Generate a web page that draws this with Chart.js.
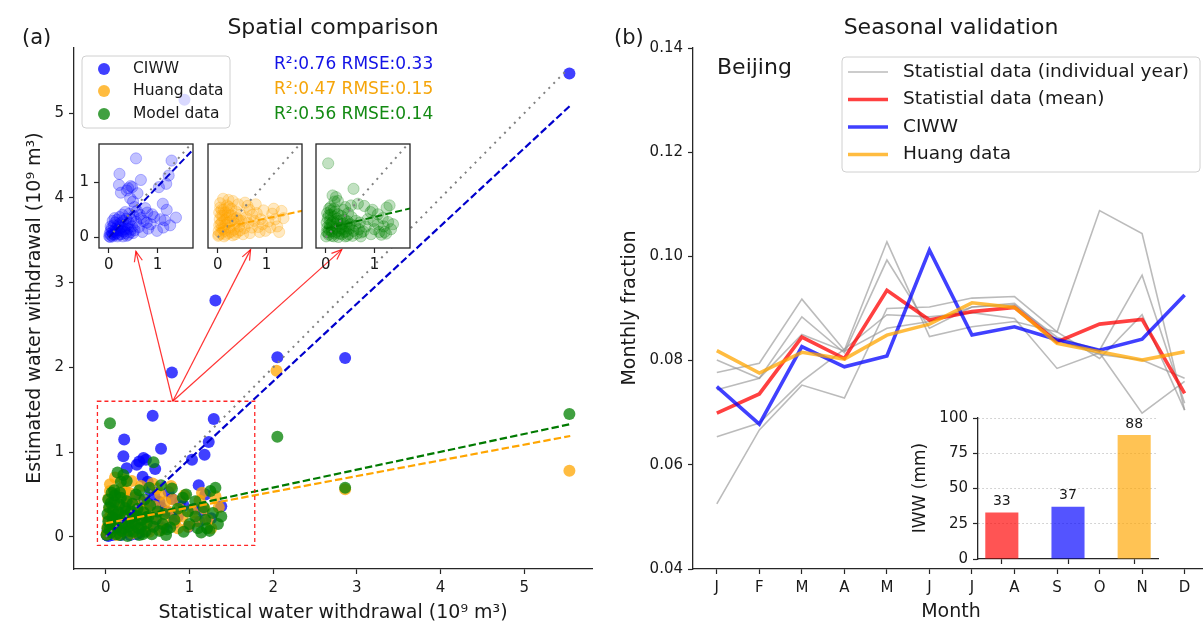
<!DOCTYPE html>
<html>
<head>
<meta charset="utf-8">
<script src="https://cdn.jsdelivr.net/npm/chart.js@4.4.1/dist/chart.umd.min.js"></script>
<style>
  html, body { margin: 0; padding: 0; background: #fff; overflow: hidden; width: 1203px; height: 632px; }
  canvas { position: absolute; }
</style>
</head>
<body>
<canvas id="spatial" width="600" height="632" style="left:0;top:0"></canvas>
<canvas id="seasonal" width="620" height="632" style="left:600px;top:0"></canvas>
<canvas id="inCiww" width="140" height="150" style="left:60px;top:130px"></canvas>
<canvas id="inHuang" width="140" height="150" style="left:169px;top:130px"></canvas>
<canvas id="inModel" width="140" height="150" style="left:277px;top:130px"></canvas>
<canvas id="iwwBars" width="272" height="200" style="left:900px;top:395px"></canvas>
<script>
// ---- panel (a) data: [statistical, estimated] in 10^9 m3
const ciwwPts = [
  [0.94,5.16],[5.54,5.47],[1.31,2.79],[0.79,1.94],[2.05,2.12],[2.86,2.11],
  [0.56,1.43],[1.29,1.39],[0.22,1.15],[1.23,1.12],[0.66,1.04],[1.18,0.97],[0.21,0.95],[0.45,0.93],
  [0.40,0.89],[0.48,0.91],[1.03,0.91],[0.37,0.85],[0.25,0.81],[0.59,0.80],[0.44,0.71],[0.50,0.65],
  [1.11,0.61],[0.53,0.55],[1.19,0.50],[0.79,0.45],[0.93,0.37],[1.38,0.36],[0.66,0.35],[1.15,0.31],
  [0.78,0.27],[1.12,0.18],[0.81,0.16],
  [0.01,0.02],[0.02,0.07],[0.03,0.01],[0.04,0.12],[0.05,0.04],[0.06,0.17],[0.07,0.09],[0.08,0.02],
  [0.10,0.22],[0.11,0.12],[0.12,0.05],[0.13,0.27],[0.15,0.16],[0.16,0.08],[0.17,0.32],[0.18,0.02],
  [0.19,0.22],[0.21,0.13],[0.22,0.37],[0.24,0.26],[0.25,0.06],[0.27,0.18],[0.28,0.41],[0.30,0.30],
  [0.31,0.11],[0.33,0.23],[0.34,0.46],[0.36,0.34],[0.37,0.03],[0.39,0.16],[0.41,0.27],[0.42,0.43],
  [0.44,0.09],[0.46,0.33],[0.48,0.20],[0.51,0.39],[0.53,0.13],[0.56,0.28],[0.58,0.48],[0.62,0.19],
  [0.64,0.41],[0.69,0.10],[0.72,0.30],[0.75,0.53],[0.86,0.24],[0.89,0.42],[0.99,0.12],[1.06,0.33],[1.26,0.22],
  [0.04,0.20],[0.09,0.06],[0.14,0.10],[0.20,0.05],[0.26,0.12],[0.29,0.02],[0.35,0.08],[0.40,0.05],
  [0.08,0.30],[0.12,0.35],[0.18,0.14],[0.23,0.20],[0.32,0.15],[0.38,0.22],[0.45,0.14],[0.50,0.08]
];
const huangPts = [
  [2.04,1.96],[2.86,0.56],[5.54,0.78],[0.11,0.70],[0.05,0.62],[0.31,0.66],[0.56,0.63],[0.61,0.57],
  [0.78,0.60],[0.94,0.49],[1.12,0.43],[1.31,0.48],[1.35,0.35],[1.04,0.29],[0.83,0.19],[1.22,0.20],
  [0.71,0.41],[0.88,0.33],[1.26,0.10],[0.22,0.68],[0.42,0.60],[1.18,0.33],[0.98,0.12],[0.65,0.50],
  [0.01,0.03],[0.02,0.12],[0.03,0.22],[0.04,0.33],[0.03,0.45],[0.05,0.54],[0.07,0.07],[0.08,0.17],
  [0.09,0.28],[0.10,0.39],[0.12,0.50],[0.13,0.02],[0.15,0.12],[0.16,0.23],[0.18,0.35],[0.19,0.58],
  [0.21,0.46],[0.22,0.08],[0.24,0.18],[0.26,0.29],[0.28,0.52],[0.29,0.40],[0.31,0.04],[0.33,0.14],
  [0.35,0.25],[0.37,0.47],[0.39,0.35],[0.41,0.10],[0.44,0.20],[0.47,0.41],[0.49,0.30],[0.52,0.06],
  [0.55,0.17],[0.58,0.36],[0.62,0.26],[0.66,0.08],[0.70,0.18],[0.75,0.30],[0.80,0.44],[0.86,0.10],
  [0.92,0.24],[1.08,0.18],[1.15,0.52],
  [0.02,0.05],[0.06,0.25],[0.07,0.40],[0.11,0.15],[0.14,0.31],[0.17,0.05],[0.20,0.27],[0.25,0.40],
  [0.27,0.10],[0.32,0.33],[0.36,0.06],[0.43,0.31],[0.46,0.13],[0.08,0.50],[0.15,0.45],[0.23,0.55]
];
const modelPts = [
  [0.05,1.34],[2.05,1.18],[2.86,0.58],[5.54,1.45],[0.57,0.88],[0.14,0.76],[0.21,0.73],[0.18,0.65],
  [0.25,0.66],[0.66,0.61],[0.79,0.57],[0.96,0.50],[0.92,0.46],[1.07,0.42],[1.25,0.54],[1.31,0.58],
  [1.17,0.35],[1.28,0.28],[1.07,0.24],[1.38,0.24],[1.34,0.15],[1.21,0.10],[1.10,0.10],[1.14,0.05],
  [0.93,0.06],[0.73,0.09],[0.72,0.02],[0.07,0.52],[1.24,0.07],[0.52,0.58],[0.40,0.55],
  [0.01,0.02],[0.02,0.10],[0.03,0.18],[0.02,0.27],[0.04,0.35],[0.03,0.44],[0.06,0.05],[0.07,0.14],
  [0.08,0.23],[0.09,0.31],[0.10,0.41],[0.11,0.49],[0.12,0.03],[0.13,0.11],[0.14,0.20],[0.15,0.29],
  [0.16,0.38],[0.18,0.46],[0.19,0.07],[0.20,0.16],[0.22,0.25],[0.23,0.34],[0.25,0.42],[0.26,0.01],
  [0.27,0.12],[0.29,0.21],[0.30,0.30],[0.32,0.39],[0.33,0.06],[0.35,0.15],[0.37,0.25],[0.38,0.33],
  [0.40,0.02],[0.42,0.11],[0.43,0.20],[0.45,0.29],[0.47,0.06],[0.49,0.16],[0.51,0.24],[0.53,0.37],
  [0.55,0.03],[0.57,0.12],[0.60,0.21],[0.62,0.30],[0.64,0.07],[0.68,0.15],[0.70,0.27],[0.77,0.11],
  [0.82,0.20],[0.86,0.33],[1.00,0.15],[0.98,0.30],[1.19,0.20],[0.46,0.44],[0.36,0.50],
  [0.05,0.09],[0.09,0.19],[0.12,0.26],[0.17,0.02],[0.21,0.10],[0.24,0.30],[0.28,0.07],[0.31,0.17],
  [0.34,0.24],[0.39,0.10],[0.44,0.03],[0.48,0.23],[0.06,0.40],[0.10,0.55],[0.17,0.52]
];
// regression / 1:1 lines (x ends, y ends)
const fitX = [0, 5.55];
const ciwwFit = [0.0, 5.09];
const huangFit = [0.16, 1.19];
const modelFit = [0.16, 1.33];
const oneX = [0, 5.5];
const r2Labels = ['R\u00B2:0.76 RMSE:0.33', 'R\u00B2:0.47 RMSE:0.15', 'R\u00B2:0.56 RMSE:0.14'];
const seriesNames = ['CIWW', 'Huang data', 'Model data'];
const zoomBoxX = [-0.1, 1.78];
const zoomBoxY = [-0.1, 1.6];
const arrowFrom = [0.8, 1.6];
const arrowTo = [[0.36, 3.37], [1.73, 3.39], [2.82, 3.39]];
const axisTicksA = [0, 1, 2, 3, 4, 5];
const insetTicks = [0, 1];

// ---- panel (b) data: monthly fraction, Beijing
const months = ['J','F','M','A','M','J','J','A','S','O','N','D'];
const year1 = [0.0777,0.0795,0.0918,0.0820,0.1028,0.0846,0.0865,0.0875,0.0855,0.1088,0.1044,0.0705];
const year2 = [0.0744,0.0766,0.0884,0.0815,0.0993,0.0862,0.0903,0.0907,0.0845,0.0820,0.0964,0.0718];
const year3 = [0.0525,0.0667,0.0753,0.0728,0.0900,0.0903,0.0920,0.0923,0.0855,0.0804,0.0888,0.0705];
const year4 = [0.0654,0.0680,0.0760,0.0822,0.0888,0.0884,0.0892,0.0881,0.0785,0.0815,0.0699,0.0760];
const year5 = [0.0801,0.0766,0.0850,0.0818,0.0862,0.0875,0.0903,0.0910,0.0840,0.0812,0.0801,0.0766];
const statMean = [0.0699,0.0736,0.0845,0.0804,0.0935,0.0878,0.0894,0.0902,0.0836,0.0870,0.0879,0.0737];
const ciwwFrac = [0.0750,0.0678,0.0827,0.0788,0.0809,0.1012,0.0849,0.0865,0.0840,0.0820,0.0841,0.0926];
const huangFrac = [0.0819,0.0776,0.0816,0.0803,0.0849,0.0870,0.0911,0.0902,0.0833,0.0817,0.0801,0.0817];
const fracTicks = [0.04, 0.06, 0.08, 0.10, 0.12, 0.14];
const lineNames = ['Statistial data (individual year)', 'Statistial data (mean)', 'CIWW', 'Huang data'];

// ---- inset bars: IWW (mm)
const iwwValues = [33, 37, 88];
const iwwTicks = [0, 25, 50, 75, 100];

const AX = '#262626';
const TXT = '#1a1a1a';
const FONT = "'DejaVu Sans', sans-serif";
Chart.defaults.font.family = FONT;
Chart.defaults.color = TXT;
Chart.defaults.animation = false;
Chart.defaults.events = [];
Chart.defaults.plugins.legend.display = false;
Chart.defaults.plugins.tooltip.enabled = false;

const BLUE = a => `rgba(0,0,255,${a})`;
const ORANGE = a => `rgba(255,165,0,${a})`;
const GREEN = a => `rgba(0,128,0,${a})`;
const RED = a => `rgba(255,0,0,${a})`;

const toXY = pts => pts.map(p => ({x: p[0], y: p[1]}));
const seg = (xs, ys) => xs.map((x, i) => ({x: x, y: ys[i]}));
const byMonth = vals => vals.map((v, i) => ({x: i, y: v}));

function text(ctx, s, x, y, size, color, align, base, rot) {
  ctx.save();
  ctx.font = `${size}px ${FONT}`;
  ctx.fillStyle = color || TXT;
  ctx.textAlign = align || 'left';
  ctx.textBaseline = base || 'alphabetic';
  ctx.translate(x, y);
  if (rot) ctx.rotate(rot);
  ctx.fillText(s, 0, 0);
  ctx.restore();
}

function linAxis(min, max, ticks, fit, extra) {
  const o = {
    type: 'linear', min: min, max: max,
    afterBuildTicks: s => { s.ticks = ticks.map(v => ({value: v})); },
    afterFit: fit,
    grid: {drawOnChartArea: false, tickLength: 5, tickColor: AX, tickWidth: 1.2},
    border: {color: AX, width: 1.3},
    ticks: {font: {size: 15}, color: TXT, padding: 5, maxRotation: 0, autoSkip: false}
  };
  return Object.assign(o, extra || {});
}

function lineSet(data, color, width, dash, order) {
  return {type: 'line', data: data, borderColor: color, borderWidth: width, borderDash: dash,
          pointRadius: 0, fill: false, showLine: true, tension: 0, order: order};
}
function dotSet(pts, color, r, order, edge, clip) {
  const d = {type: 'scatter', data: toXY(pts), backgroundColor: color, borderColor: edge || color,
             borderWidth: edge ? 1 : 0, pointRadius: r, order: order};
  if (clip !== undefined) d.clip = clip;
  return d;
}

function arrow(ctx, x1, y1, x2, y2) {
  ctx.beginPath(); ctx.moveTo(x1, y1); ctx.lineTo(x2, y2); ctx.stroke();
  const a = Math.atan2(y2 - y1, x2 - x1), L = 11, w = 0.38;
  ctx.beginPath();
  ctx.moveTo(x2 - L * Math.cos(a - w), y2 - L * Math.sin(a - w));
  ctx.lineTo(x2, y2);
  ctx.lineTo(x2 - L * Math.cos(a + w), y2 - L * Math.sin(a + w));
  ctx.stroke();
}

function roundBox(ctx, x, y, w, h, r) {
  ctx.beginPath();
  ctx.moveTo(x + r, y); ctx.lineTo(x + w - r, y); ctx.quadraticCurveTo(x + w, y, x + w, y + r);
  ctx.lineTo(x + w, y + h - r); ctx.quadraticCurveTo(x + w, y + h, x + w - r, y + h);
  ctx.lineTo(x + r, y + h); ctx.quadraticCurveTo(x, y + h, x, y + h - r);
  ctx.lineTo(x, y + r); ctx.quadraticCurveTo(x, y, x + r, y);
  ctx.closePath();
}

// ---------- panel (a)
const spatialDecor = {
  id: 'spatialDecor',
  afterDatasetsDraw(chart) {
    const ctx = chart.ctx, xs = chart.scales.x, ys = chart.scales.y;
    ctx.save();
    ctx.strokeStyle = RED(0.85); ctx.lineWidth = 1.3; ctx.setLineDash([4, 3]);
    const bx = xs.getPixelForValue(zoomBoxX[0]), by = ys.getPixelForValue(zoomBoxY[1]);
    ctx.strokeRect(bx, by, xs.getPixelForValue(zoomBoxX[1]) - bx, ys.getPixelForValue(zoomBoxY[0]) - by);
    ctx.setLineDash([]);
    ctx.strokeStyle = RED(0.8); ctx.lineWidth = 1.2;
    const ax = xs.getPixelForValue(arrowFrom[0]), ay = ys.getPixelForValue(arrowFrom[1]);
    arrowTo.forEach(t => arrow(ctx, ax, ay, xs.getPixelForValue(t[0]), ys.getPixelForValue(t[1])));
    ctx.restore();
  },
  afterDraw(chart) {
    const ctx = chart.ctx;
    // legend
    ctx.save();
    roundBox(ctx, 82, 56, 148, 72, 4);
    ctx.fillStyle = 'rgba(255,255,255,0.8)'; ctx.fill();
    ctx.strokeStyle = '#d0d0d0'; ctx.lineWidth = 1; ctx.stroke();
    const cols = [BLUE(0.75), ORANGE(0.75), GREEN(0.75)];
    const rows = [69, 91, 114];
    seriesNames.forEach((n, i) => {
      ctx.beginPath(); ctx.arc(104, rows[i], 6, 0, Math.PI * 2);
      ctx.fillStyle = cols[i]; ctx.fill();
      text(ctx, n, 133, rows[i], 15.5, TXT, 'left', 'middle');
    });
    ctx.restore();
    const tcols = ['#1212e6', '#f5a50a', '#138a13'];
    r2Labels.forEach((s, i) => text(ctx, s, 274, [65, 90, 115][i], 17, tcols[i], 'left', 'middle'));
    text(ctx, 'Spatial comparison', 333, 34, 22, TXT, 'center');
    text(ctx, '(a)', 22, 44, 21, TXT, 'left');
    text(ctx, 'Statistical water withdrawal (10\u2079 m\u00B3)', 333, 618, 19, TXT, 'center');
    text(ctx, 'Estimated water withdrawal (10\u2079 m\u00B3)', 35, 308, 19, TXT, 'center', 'middle', -Math.PI / 2);
  }
};

new Chart(document.getElementById('spatial'), {
  type: 'scatter',
  data: {datasets: [
    dotSet(ciwwPts, BLUE(0.75), 6, 6),
    dotSet(huangPts, ORANGE(0.75), 6, 5),
    dotSet(modelPts, GREEN(0.75), 6, 4),
    lineSet(seg(oneX, oneX), 'rgba(128,128,128,1)', 2, [2, 5], 0),
    lineSet(seg(fitX, ciwwFit), '#0000cc', 2.2, [7.4, 3.2], 0),
    lineSet(seg(fitX, huangFit), '#ffa500', 2.2, [7.4, 3.2], 0),
    lineSet(seg(fitX, modelFit), '#007a00', 2.2, [7.4, 3.2], 0)
  ]},
  options: {
    responsive: false,
    layout: {padding: {left: 0, right: 8, top: 48, bottom: 0}},
    scales: {
      x: linAxis(-0.38, 5.81, axisTicksA, s => { s.height = 63; }),
      y: linAxis(-0.38, 5.77, axisTicksA, s => { s.width = 74; }, {})
    }
  },
  plugins: [spatialDecor]
});

// ---------- insets of panel (a)
const insetFrame = {
  id: 'insetFrame',
  beforeDatasetsDraw(chart) {
    const a = chart.chartArea, ctx = chart.ctx;
    ctx.save(); ctx.fillStyle = '#fff';
    ctx.fillRect(a.left, a.top, a.right - a.left, a.bottom - a.top);
    ctx.restore();
  },
  afterDraw(chart) {
    const a = chart.chartArea, ctx = chart.ctx;
    ctx.save(); ctx.strokeStyle = AX; ctx.lineWidth = 1.3;
    ctx.strokeRect(a.left, a.top, a.right - a.left, a.bottom - a.top);
    ctx.restore();
  }
};

function inset(id, pts, col, fit, dashCol, showY) {
  const yAxis = linAxis(-0.19, 1.69, insetTicks, s => { s.width = 39; }, {border: {display: false}});
  if (!showY) {
    yAxis.ticks = {display: false};
    yAxis.grid = {display: false};
  }
  const xAxis = linAxis(-0.2, 1.73, insetTicks, s => { s.height = 32; }, {border: {display: false}});
  xAxis.ticks = {font: {size: 15}, color: TXT, padding: 3, maxRotation: 0, autoSkip: false};
  new Chart(document.getElementById(id), {
    type: 'scatter',
    data: {datasets: [
      dotSet(pts, col(0.24), 5.6, 2, col(0.26), 0),
      Object.assign(lineSet(seg(oneX, oneX), 'rgba(128,128,128,1)', 2, [2, 5], 1), {clip: 0}),
      Object.assign(lineSet(seg(fitX, fit), dashCol, 2, [7, 3.2], 0), {clip: 0})
    ]},
    options: {
      responsive: false,
      layout: {padding: {left: 0, right: 7, top: 14, bottom: 0}},
      scales: {x: xAxis, y: yAxis}
    },
    plugins: [insetFrame]
  });
}
inset('inCiww', ciwwPts, BLUE, ciwwFit, '#0000cc', true);
inset('inHuang', huangPts, ORANGE, huangFit, '#ffa500', false);
inset('inModel', modelPts, GREEN, modelFit, '#007a00', false);

// ---------- panel (b)
const seasonalDecor = {
  id: 'seasonalDecor',
  afterDraw(chart) {
    const ctx = chart.ctx;
    ctx.save();
    ctx.translate(-600, 0); // work in page coordinates
    roundBox(ctx, 842, 57, 358, 115, 4);
    ctx.fillStyle = 'rgba(255,255,255,0.8)'; ctx.fill();
    ctx.strokeStyle = '#d0d0d0'; ctx.lineWidth = 1; ctx.stroke();
    const cols = ['rgba(150,150,150,0.65)', RED(0.75), BLUE(0.75), ORANGE(0.75)];
    const widths = [1.6, 3.6, 3.6, 3.6];
    const rows = [72, 99.5, 127, 154.5];
    lineNames.forEach((n, i) => {
      ctx.beginPath(); ctx.moveTo(848, rows[i]); ctx.lineTo(888, rows[i]);
      ctx.strokeStyle = cols[i]; ctx.lineWidth = widths[i]; ctx.stroke();
      text(ctx, n, 903, rows[i], 18.5, TXT, 'left', 'middle');
    });
    text(ctx, 'Seasonal validation', 951, 34, 22, TXT, 'center');
    text(ctx, '(b)', 614, 44, 21, TXT, 'left');
    text(ctx, 'Beijing', 717, 74, 22, TXT, 'left');
    text(ctx, 'Month', 951, 617, 19, TXT, 'center');
    text(ctx, 'Monthly fraction', 630, 308, 19, TXT, 'center', 'middle', -Math.PI / 2);
    ctx.restore();
  }
};

const grayYear = 'rgba(150,150,150,0.65)';
new Chart(document.getElementById('seasonal'), {
  type: 'line',
  data: {datasets: [
    lineSet(byMonth(year1), grayYear, 1.6, [], 3),
    lineSet(byMonth(year2), grayYear, 1.6, [], 3),
    lineSet(byMonth(year3), grayYear, 1.6, [], 3),
    lineSet(byMonth(year4), grayYear, 1.6, [], 3),
    lineSet(byMonth(year5), grayYear, 1.6, [], 3),
    lineSet(byMonth(statMean), RED(0.75), 3.6, [], 2),
    lineSet(byMonth(ciwwFrac), BLUE(0.75), 3.6, [], 1),
    lineSet(byMonth(huangFrac), ORANGE(0.75), 3.6, [], 0)
  ]},
  options: {
    responsive: false,
    layout: {padding: {left: 0, right: 12, top: 48, bottom: 0}},
    scales: {
      x: linAxis(-0.56, 11.55, months.map((m, i) => i), s => { s.height = 63; },
                 {ticks: {font: {size: 15}, color: TXT, padding: 5, maxRotation: 0, autoSkip: false,
                          callback: v => months[v]}}),
      y: linAxis(0.04, 0.14, fracTicks, s => { s.width = 93; },
                 {ticks: {font: {size: 15}, color: TXT, padding: 5, callback: v => v.toFixed(2)}})
    }
  },
  plugins: [seasonalDecor]
});

// ---------- bar inset of panel (b)
const barDecor = {
  id: 'barDecor',
  afterDatasetsDraw(chart) {
    const ctx = chart.ctx, meta = chart.getDatasetMeta(0);
    meta.data.forEach((el, i) => text(ctx, String(iwwValues[i]), el.x, el.y - 4, 14, TXT, 'center', 'bottom'));
    text(ctx, 'IWW (mm)', 21, 93, 17, TXT, 'center', 'middle', -Math.PI / 2);
  }
};
new Chart(document.getElementById('iwwBars'), {
  type: 'bar',
  data: {datasets: [{
    data: iwwValues.map((v, i) => ({x: i, y: v})),
    backgroundColor: [RED(0.67), BLUE(0.67), ORANGE(0.67)],
    barPercentage: 0.5, categoryPercentage: 1
  }]},
  options: {
    responsive: false,
    layout: {padding: {left: 0, right: 14, top: 23, bottom: 0}},
    scales: {
      x: linAxis(-0.36, 2.36, [0, 1, 2], s => { s.height = 36; }, {
        offset: false,
        grid: {drawOnChartArea: false, offset: false, tickLength: 5, tickColor: AX, tickWidth: 1.2},
        ticks: {display: false}
      }),
      y: Object.assign(linAxis(0, 100, iwwTicks, s => { s.width = 78; }), {
        grid: {drawOnChartArea: true, tickLength: 5, tickColor: AX, tickWidth: 1.2, lineWidth: 1,
               color: c => (c.tick && c.tick.value === 0) ? 'rgba(0,0,0,0)' : '#c8c8c8'},
        border: {color: AX, width: 1.3, dash: [1.5, 2.5]}
      })
    }
  },
  plugins: [barDecor]
});
</script>
</body>
</html>
